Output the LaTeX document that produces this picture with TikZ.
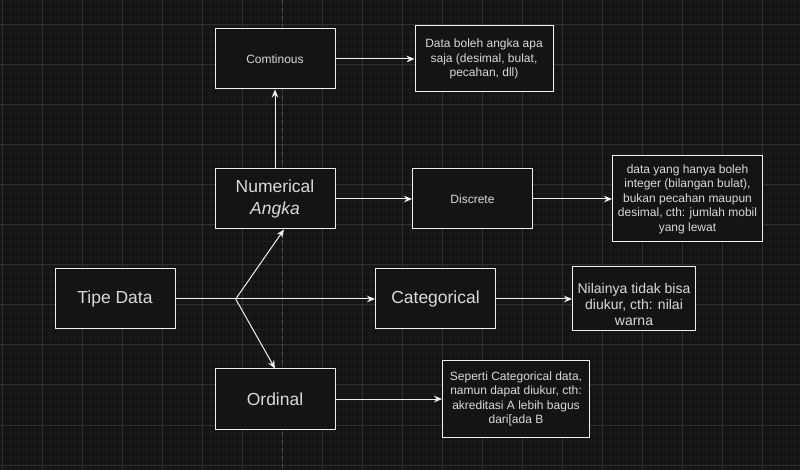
\documentclass[tikz,border=0pt]{standalone}
\usepackage{fontspec}
\setmainfont{Liberation Sans}
\usepackage{xcolor}
\usepackage{tikz}
\usetikzlibrary{arrows.meta}
\definecolor{bgdark}{HTML}{141414}
\definecolor{gridminor}{HTML}{1D1D1D}
\definecolor{gridmajor}{HTML}{2F2F2F}
\definecolor{pageline}{HTML}{4A4A4A}
\definecolor{linewhite}{HTML}{F0F0F0}
\definecolor{textgray}{HTML}{DADADA}

\begin{document}
\begin{tikzpicture}[
        x=0.75pt, y=-0.75pt,
        box/.style={rectangle, draw=linewhite, fill=bgdark, line width=0.75pt, text=textgray, minimum width=90pt, minimum height=45pt, align=center, inner sep=0pt},
        small/.style={font=\fontsize{9}{10.9}\selectfont},
        big/.style={font=\fontsize{13.1}{16.3}\selectfont},
        arrow/.style={->, >={Stealth[length=6pt, width=5pt, inset=2pt]}, line width=0.75pt, draw=linewhite}
    ]
    
    % Background with grid
    \useasboundingbox (0,0) rectangle (800,470);
    \fill[bgdark] (0,0) rectangle (800,470);
    \draw[gridminor, line width=0.5pt, step=6pt, shift={(2.7,1)}] (-10,-10) grid (810,480);
    \draw[gridmajor, line width=0.75pt, step=30pt, shift={(2.7,25)}] (-10,-30) grid (810,480);
    \draw[pageline, line width=0.5pt, dash pattern=on 3pt off 3pt] (282.7,0) -- (282.7,470);
    
    % Main box
    \node[box, big] (tipedata) at (115,299) {Tipe Data};
    
    % Kinds of data
    \node[box, big] (numerical) at (275,199) {Numerical\\\textit{Angka}};
    \node[box, big] (categorical) at (435.5,299) {Categorical};
    \node[box, big] (ordinal) at (275,399) {Ordinal};
    \node[box, small] (comtinous) at (275,59) {Comtinous};
    \node[box, small] (discrete) at (472.5,199) {Discrete};
    
    % Explanations
    \node[box, small, minimum width=103.5pt, minimum height=49.5pt] (contdesc) at (484,59) {Data boleh angka apa\\saja (desimal, bulat,\\pecahan, dll)};
    \node[box, small, minimum width=112.5pt, minimum height=64.5pt] (discdesc) at (687.5,199) {data yang hanya boleh\\integer (bilangan bulat),\\bukan pecahan maupun\\desimal, cth: jumlah mobil\\yang lewat};
    \node[box, font=\fontsize{10.5}{12}\selectfont, minimum width=92.25pt, minimum height=48pt] (catdesc) at (634,299) {\raisebox{-5.5pt}[\height][\depth]{\begin{tabular}{@{}c@{}}Nilainya tidak bisa\\diukur, cth: nilai\\warna\end{tabular}}};
    \node[box, small, minimum width=110.25pt, minimum height=57pt] (orddesc) at (516,399) {Seperti Categorical data,\\namun dapat diukur, cth:\\akreditasi A lebih bagus\\dari[ada B};
    
    % Arrows
    \coordinate (fork) at (235.7,299);
    \draw[line width=0.75pt, linewhite] (tipedata) -- (fork);
    \draw[arrow] (fork) -- (categorical);
    \draw[arrow] (fork) -- ([xshift=6.75pt]numerical.south);
    \draw[arrow] (fork) -- (ordinal.north);
    \draw[arrow] (numerical) -- (comtinous);
    \draw[arrow] (comtinous) -- (contdesc);
    \draw[arrow] (numerical) -- (discrete);
    \draw[arrow] (discrete) -- (discdesc);
    \draw[arrow] (categorical) -- (catdesc);
    \draw[arrow] (ordinal) -- (orddesc);
    
    \end{tikzpicture}
\end{document}
